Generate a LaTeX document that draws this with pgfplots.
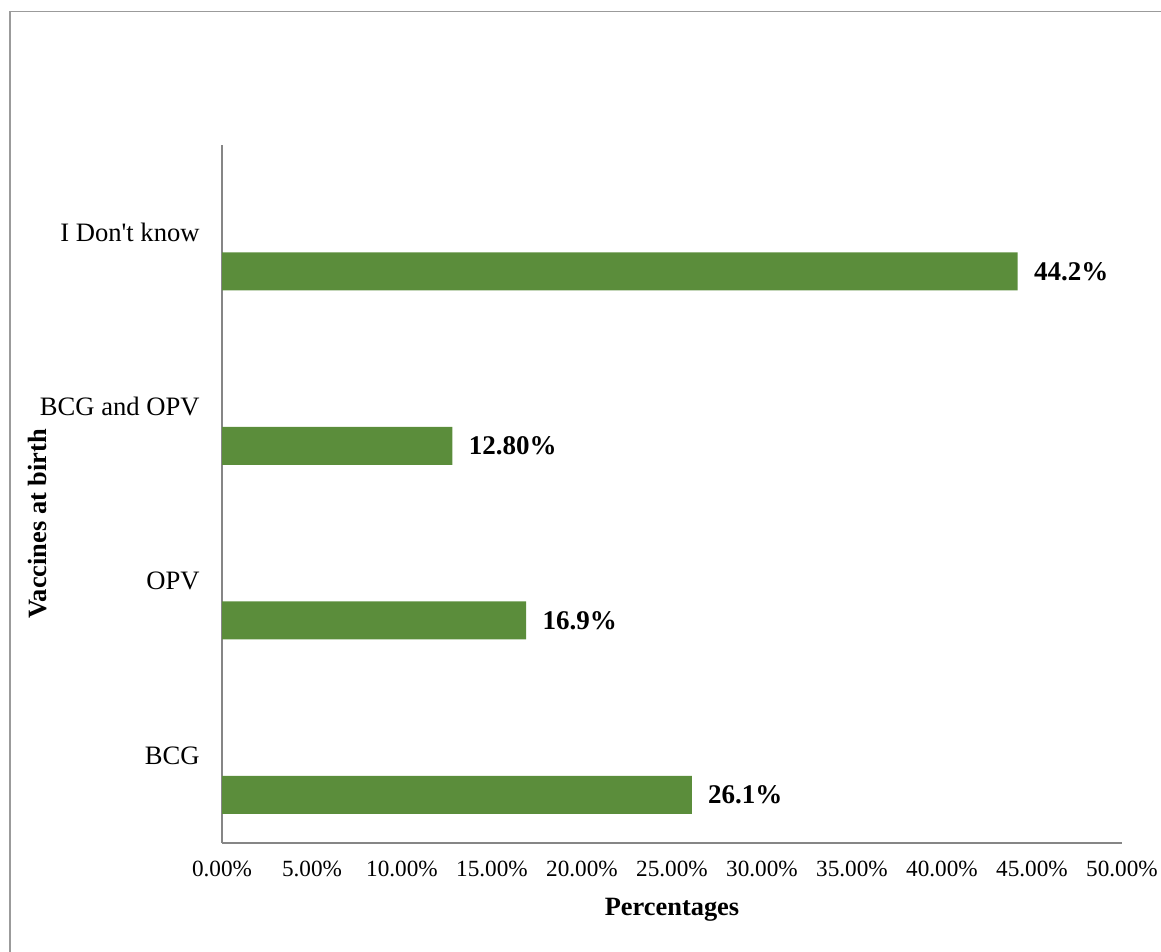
\documentclass[border=0pt]{standalone}
\usepackage{fontspec}
\setmainfont{Liberation Serif}[Ligatures=TeXOff]
\usepackage{pgfplots}
\pgfplotsset{compat=1.18}
\usepackage{pgfplotstable}

\definecolor{barGreen}{RGB}{91,141,59}
\definecolor{axisGray}{RGB}{134,134,134}
\definecolor{frameGray}{RGB}{155,155,155}

% share of respondents naming each vaccine given at birth
\pgfplotstableread{
pos value label
0   26.1  26.1
1   16.9  16.9
2   12.8  12.80
3   44.2  44.2
}\vaccines

\begin{document}
\begin{tikzpicture}[x=1pt,y=1pt]
\path[use as bounding box] (0,0) rectangle (580.5,476);
\draw[frameGray, line width=0.8pt] (5,0) -- (5,470.2) -- (580.5,470.2);
\begin{axis}[
  at={(111pt,54.5pt)}, anchor=south west,
  scale only axis, width=450pt, height=349pt,
  xmin=0, xmax=50, ymin=-0.5, ymax=3.5,
  axis x line*=bottom, axis y line*=left,
  axis line style={draw=axisGray, line width=1pt, -},
  xtick={0,5,...,50},
  /pgf/number format/assume math mode=true,
  xticklabel={\pgfmathprintnumber[fixed, fixed zerofill, precision=2]{\tick}\%},
  ytick={0,1,2,3},
  yticklabels={BCG, OPV, BCG and OPV, I Don't know},
  major tick length=0pt, tick style={draw=none},
  xticklabel style={font=\fontsize{11.6}{13}\selectfont, inner sep=0pt, anchor=north, yshift=-9pt},
  yticklabel style={font=\fontsize{13.3}{15}\selectfont, inner sep=0pt, anchor=east, xshift=-11pt},
  xlabel={Percentages},
  xlabel style={font=\fontsize{13.2}{15}\selectfont\bfseries, at={(axis description cs:0.5,0)}, anchor=center, yshift=-33.5pt},
  ylabel={Vaccines at birth},
  ylabel style={font=\fontsize{13.2}{15}\selectfont\bfseries, at={(axis description cs:0,0.457)}, anchor=center, yshift=92pt},
  clip=false,
]
\addplot[xbar, bar width=19pt, bar shift=-19.6pt, fill=barGreen, draw=none,
  point meta=explicit symbolic,
  nodes near coords={\pgfplotspointmeta\%},
  nodes near coords style={font=\fontsize{13.5}{15}\selectfont\bfseries, anchor=west, inner sep=0pt, xshift=8pt, yshift=-19.6pt}]
  table[x=value, y=pos, meta=label] {\vaccines};
\end{axis}
\end{tikzpicture}
\end{document}
